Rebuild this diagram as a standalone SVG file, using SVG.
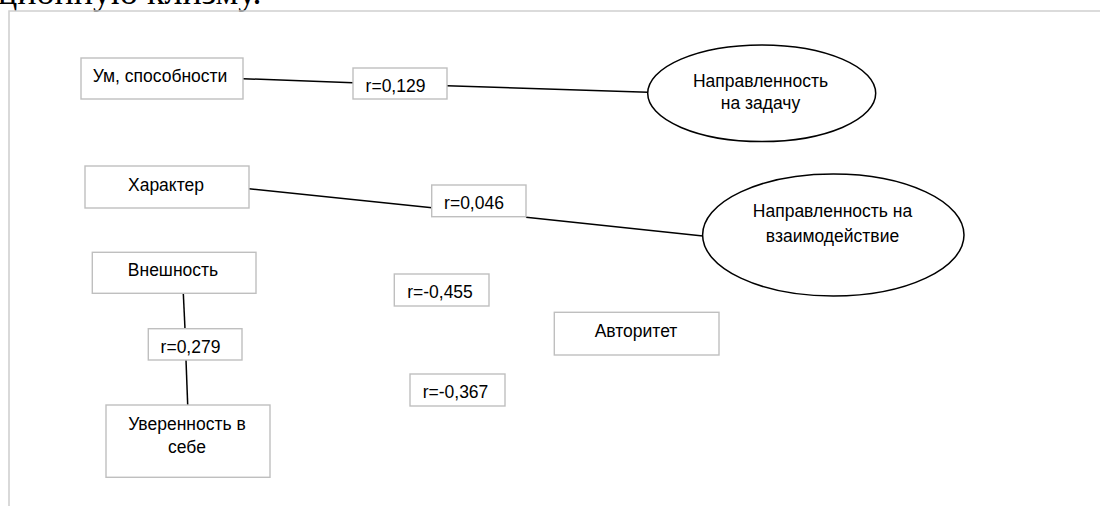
<svg xmlns="http://www.w3.org/2000/svg" width="1100" height="506" viewBox="0 0 1100 506">
<style>
.box{fill:#ffffff;stroke:#bfbfbf;stroke-width:1.4}
.ell{fill:#ffffff;stroke:#000000;stroke-width:1.5}
.t{font-family:"Liberation Sans",Arial,sans-serif;font-size:17.5px;fill:#000000;text-anchor:middle}
.c{stroke:#000000;stroke-width:1.5;fill:none}
</style>
<rect width="1100" height="506" fill="#ffffff"/>
<text x="-2" y="4" font-family="Liberation Serif,Times New Roman,serif" font-size="36" fill="#000000">ционную клизму.</text>
<path d="M9 506 V11 H1100" fill="none" stroke="#d0d0d0" stroke-width="1.6"/>
<g id="connectors">
<line class="c" x1="243" y1="78.7" x2="353" y2="82.7"/>
<line class="c" x1="447" y1="85.7" x2="648" y2="92.3"/>
<line class="c" x1="249" y1="188.7" x2="432" y2="207.7"/>
<line class="c" x1="526" y1="217.3" x2="703" y2="236"/>
<line class="c" x1="183.3" y1="293.3" x2="185" y2="328.7"/>
<line class="c" x1="186" y1="360" x2="187.7" y2="405"/>
</g>
<g id="n-um">
<rect class="box" x="81" y="58" width="162" height="41"/>
<text class="t" x="160" y="82">Ум, способности</text>
</g>
<g id="r-129">
<rect class="box" x="353" y="68" width="94" height="31"/>
<text class="t" x="395.5" y="92">r=0,129</text>
</g>
<g id="n-task">
<ellipse class="ell" cx="761.7" cy="93.3" rx="114" ry="48.3"/>
<text class="t" x="760.5" y="86.7">Направленность</text>
<text class="t" x="760.5" y="109">на задачу</text>
</g>
<g id="n-char">
<rect class="box" x="85" y="166" width="164" height="42"/>
<text class="t" x="166" y="191">Характер</text>
</g>
<g id="r-046">
<rect class="box" x="431.7" y="185" width="94.3" height="31.7"/>
<text class="t" x="474" y="209">r=0,046</text>
</g>
<g id="n-inter">
<ellipse class="ell" cx="833.3" cy="235" rx="130.7" ry="61"/>
<text class="t" x="832.5" y="216.7">Направленность на</text>
<text class="t" x="832.5" y="241.7">взаимодействие</text>
</g>
<g id="n-look">
<rect class="box" x="92.3" y="252.3" width="163.7" height="41"/>
<text class="t" x="173" y="276">Внешность</text>
</g>
<g id="r-279">
<rect class="box" x="148.3" y="328.7" width="93.7" height="31.3"/>
<text class="t" x="190.5" y="353.3">r=0,279</text>
</g>
<g id="n-conf">
<rect class="box" x="106" y="405" width="164" height="72.3"/>
<text class="t" x="187" y="430">Уверенность в</text>
<text class="t" x="187" y="453.3">себе</text>
</g>
<g id="r-455">
<rect class="box" x="394.3" y="274" width="94.7" height="32"/>
<text class="t" x="440" y="297.7">r=-0,455</text>
</g>
<g id="n-auth">
<rect class="box" x="554.3" y="312.3" width="164.7" height="42.7"/>
<text class="t" x="636" y="336.7">Авторитет</text>
</g>
<g id="r-367">
<rect class="box" x="410" y="374" width="95" height="32"/>
<text class="t" x="455.5" y="397.7">r=-0,367</text>
</g>
</svg>
